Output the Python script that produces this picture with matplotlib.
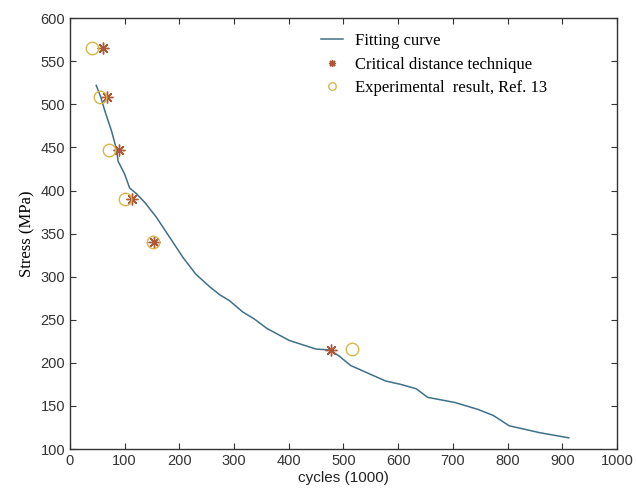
import numpy as np
import matplotlib.pyplot as plt

# fitting curve
curve_x = [48, 56, 64, 76, 85, 88, 100, 109, 122, 137, 158, 182, 207, 230, 256, 274, 292,
           316, 337, 360, 401, 450, 475, 492, 513, 577, 605, 633, 654, 704, 746, 774, 803,
           831, 859, 912]
curve_y = [522, 509, 492, 469, 448, 434, 419, 403, 396, 386, 369, 346, 322, 303, 288, 279, 272,
           259, 251, 240, 226, 216, 215, 208, 197, 179, 175, 170, 160, 154, 146, 139, 127,
           123, 119, 113]

# critical distance technique
cdt_x = [60, 68, 90, 114, 153, 477]
cdt_y = [565, 508, 447, 390, 340, 215]

# experimental results
exp_x = [41, 55, 71, 101, 152, 515]
exp_y = [565, 508, 447, 390, 340, 216]

fig = plt.figure(figsize=(6.36, 5.04), dpi=100)
ax = fig.add_axes([0.110, 0.109, 0.860, 0.855])

ax.plot(curve_x, curve_y, color='#3f7088', lw=1.1, label='Fitting curve')
ax.plot(cdt_x, cdt_y, ls='none', marker=(8, 2, 0), ms=8.5, mew=1.0,
        color='#ad5836', label='Critical distance technique')
ax.plot(exp_x, exp_y, ls='none', marker='o', ms=9, mfc='none', mew=1.0,
        color='#d8b64e', label='Experimental  result, Ref. 13')

ax.set_xlim(0, 1000)
ax.set_ylim(100, 600)
ax.set_xticks(np.arange(0, 1001, 100))
ax.set_yticks(np.arange(100, 601, 50))
ax.tick_params(direction='in', top=True, right=True, length=4, width=0.8,
               colors='#333333', labelsize=10.5)
for lab in ax.get_xticklabels() + ax.get_yticklabels():
    lab.set_family('Liberation Sans')
for sp in ax.spines.values():
    sp.set_color('#333333')
    sp.set_linewidth(1.0)

ax.set_xlabel('cycles (1000)', family='Liberation Sans', fontsize=11, color='#222222', labelpad=2)
ax.set_ylabel('Stress (MPa)', family='Liberation Serif', fontsize=12, labelpad=4)

ax.legend(loc='upper left', bbox_to_anchor=(0.432, 1.0), frameon=False,
          prop={'family': 'Liberation Serif', 'size': 12}, handlelength=1.3,
          markerscale=0.6, labelspacing=0.45, handletextpad=0.7)

fig.savefig('out.png', dpi=100)
